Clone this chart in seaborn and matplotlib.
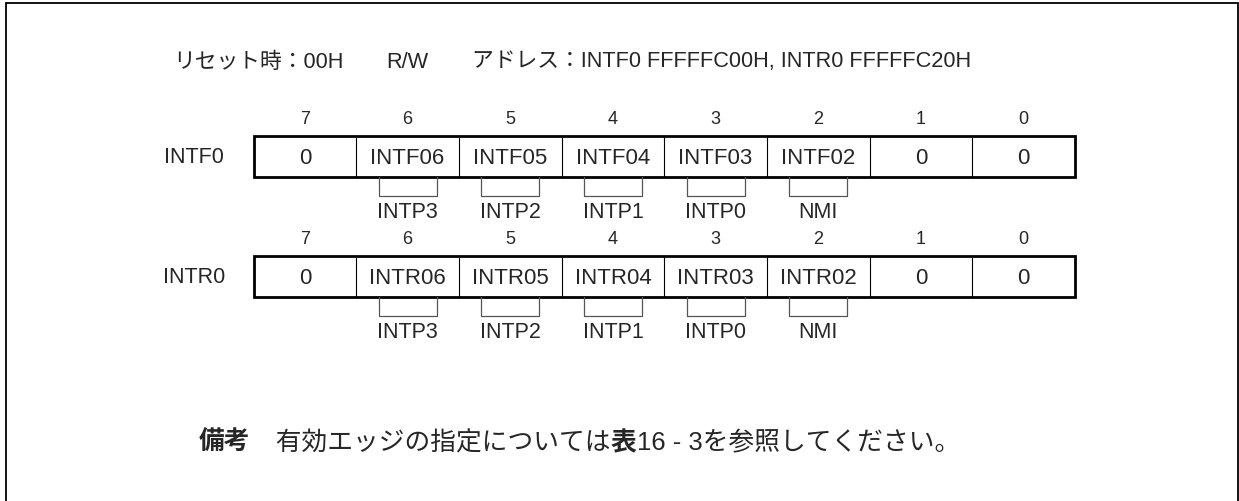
import matplotlib
matplotlib.use("Agg")
import matplotlib.pyplot as plt
import seaborn as sns

# register diagram contents
bit_numbers = [7, 6, 5, 4, 3, 2, 1, 0]
intf0_fields = ["0", "INTF06", "INTF05", "INTF04", "INTF03", "INTF02", "0", "0"]
intr0_fields = ["0", "INTR06", "INTR05", "INTR04", "INTR03", "INTR02", "0", "0"]
pin_names = ["", "INTP3", "INTP2", "INTP1", "INTP0", "NMI", "", ""]
register_names = ["INTF0", "INTR0"]
header_parts = ["リセット時：00H", "R/W", "アドレス：INTF0 FFFFFC00H, INTR0 FFFFFC20H"]
note_parts = [("備考", "bold"), ("　有効エッジの指定については", "normal"),
              ("表", "bold"), ("16 - 3を参照してください。", "normal")]

sns.set_theme(style="white")
plt.rcParams["font.family"] = ["Liberation Sans", "Noto Sans CJK JP", "DejaVu Sans"]

W, H = 1239, 502
fig = plt.figure(figsize=(W / 100, H / 100), dpi=100)
ax = fig.add_axes([0, 0, 1, 1])
ax.set_xlim(0, W)
ax.set_ylim(H, 0)
ax.axis("off")

# outer frame (bottom edge runs off the page)
ax.plot([5.5, 5.5, 1237.5, 1237.5], [H + 5, 4, 4, H + 5], color="black", lw=1.3,
        solid_joinstyle="miter")

fig.canvas.draw()
renderer = fig.canvas.get_renderer()

# header line, laid out with fixed gaps
x = 173
for s in header_parts:
    t = ax.text(x, 62, s, fontsize=15.7, ha="left", va="center")
    x += t.get_window_extent(renderer=renderer).width + 43

box_left, box_right = 253.5, 1075
cell_w = (box_right - box_left) / len(bit_numbers)

def draw_register(top, name, fields):
    bottom = top + 41
    mid = (top + bottom) / 2
    ax.text(194, mid, name, fontsize=15.5, ha="center", va="center")
    for i, (b, f) in enumerate(zip(bit_numbers, fields)):
        cx = box_left + cell_w * (i + 0.5)
        ax.text(cx, top - 17, str(b), fontsize=13, ha="center", va="center")
        ax.text(cx, mid + 1, f, fontsize=16, ha="center", va="center")
        if i > 0:
            x = box_left + cell_w * i
            ax.plot([x, x], [top, bottom], color="black", lw=0.8)
        if pin_names[i]:
            ax.plot([cx - 29, cx - 29, cx + 29, cx + 29], [bottom, bottom + 19, bottom + 19, bottom],
                    color="#555555", lw=0.9)
            ax.text(cx, bottom + 35, pin_names[i], fontsize=15.5, ha="center", va="center")
    ax.add_patch(plt.Rectangle((box_left, top), box_right - box_left, bottom - top,
                               fill=False, ec="black", lw=2.0))

draw_register(137, register_names[0], intf0_fields)
draw_register(257, register_names[1], intr0_fields)

# note line, segments laid out one after another
x = 199
for s, w in note_parts:
    t = ax.text(x, 443, s, fontsize=18.5, fontweight=w, ha="left", va="center")
    x += t.get_window_extent(renderer=renderer).width

fig.savefig("out.png", dpi=100)
